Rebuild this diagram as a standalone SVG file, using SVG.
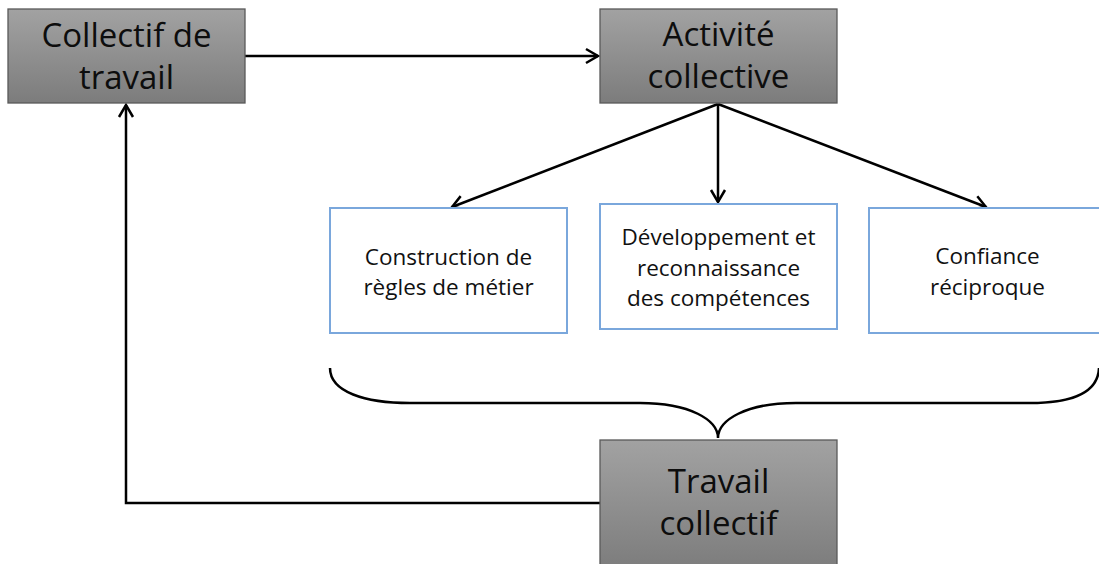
<svg xmlns="http://www.w3.org/2000/svg" width="1099" height="564" viewBox="0 0 1099 564">
<style>
.dark{stroke:#595959;stroke-width:1.3;fill:url(#g)}
.blue{fill:#fff;stroke:#7aa7dc;stroke-width:2}
.big{font-family:"Open Sans","Liberation Sans",sans-serif;font-size:33px;fill:#0d0d0d;text-anchor:middle}
.small{font-family:"Open Sans","Liberation Sans",sans-serif;font-size:22.5px;fill:#111;text-anchor:middle}
.ln{fill:none;stroke:#000;stroke-width:2.5}
</style>
<defs>
<linearGradient id="g" x1="0" y1="0" x2="0" y2="1">
<stop offset="0" stop-color="#a2a2a2"/>
<stop offset="1" stop-color="#7c7c7c"/>
</linearGradient>
<marker id="a" viewBox="-15 -10 18 20" refX="0" refY="0" markerWidth="18" markerHeight="20" markerUnits="userSpaceOnUse" orient="auto">
<path d="M-12,-7 L0,0 L-12,7" fill="none" stroke="#000" stroke-width="2.5"/>
</marker>
</defs>
<rect width="1099" height="564" fill="#fff"/>
<g id="connectors">
<line class="ln" x1="245" y1="56" x2="598" y2="56" marker-end="url(#a)"/>
<line class="ln" x1="718" y1="104" x2="452" y2="207" marker-end="url(#a)"/>
<line class="ln" x1="718" y1="104" x2="718" y2="202" marker-end="url(#a)"/>
<line class="ln" x1="718" y1="104" x2="986" y2="207" marker-end="url(#a)"/>
<polyline class="ln" points="600,503 126,503 126,105" marker-end="url(#a)"/>
<path class="ln" d="M330,368 C330,392 365,403 410,403 L640,403 C690,403 718,420 718,438 C718,420 746,403 796,403 L1030,403 C1075,403 1098,392 1099,368"/>
</g>
<g id="collectif-de-travail">
<rect class="dark" x="8" y="9" width="237" height="94"/>
<text class="big" x="126.5" y="47">Collectif de</text>
<text class="big" x="126.5" y="89">travail</text>
</g>
<g id="activite-collective">
<rect class="dark" x="600" y="9" width="237" height="94"/>
<text class="big" x="718.5" y="46">Activité</text>
<text class="big" x="718.5" y="88">collective</text>
</g>
<g id="travail-collectif">
<rect class="dark" x="600" y="440" width="237" height="130"/>
<text class="big" x="718.5" y="493">Travail</text>
<text class="big" x="718.5" y="535">collectif</text>
</g>
<g id="construction">
<rect class="blue" x="330" y="208" width="237" height="125"/>
<text class="small" x="448.5" y="265">Construction de</text>
<text class="small" x="448.5" y="295">règles de métier</text>
</g>
<g id="developpement">
<rect class="blue" x="600" y="204" width="237" height="125"/>
<text class="small" x="718.5" y="245">Développement et</text>
<text class="small" x="718.5" y="276">reconnaissance</text>
<text class="small" x="718.5" y="306">des compétences</text>
</g>
<g id="confiance">
<rect class="blue" x="869" y="208" width="237" height="125"/>
<text class="small" x="987.5" y="264">Confiance</text>
<text class="small" x="987.5" y="295">réciproque</text>
</g>
</svg>
